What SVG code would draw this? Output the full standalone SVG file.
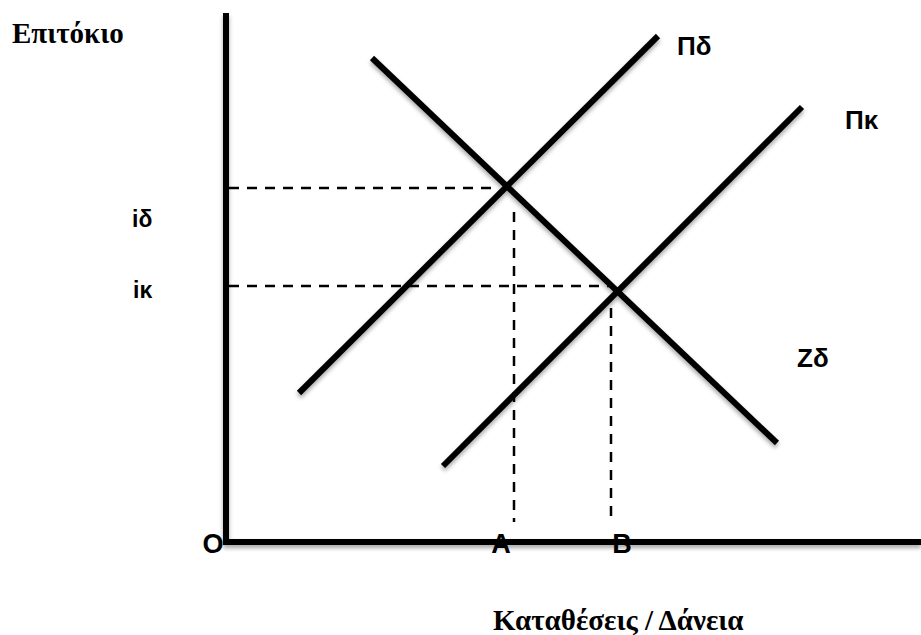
<svg xmlns="http://www.w3.org/2000/svg" width="921" height="635" viewBox="0 0 921 635">
<style>
.solid{stroke:#000;stroke-width:6;fill:none;stroke-linecap:butt}
.dash{stroke:#000;stroke-width:2.5;fill:none;stroke-dasharray:10 8}
.lbl{font-family:"Liberation Sans",Arial,sans-serif;font-weight:bold;fill:#000}
.ttl{font-family:"Liberation Serif","Times New Roman",serif;font-weight:bold;fill:#000}
</style>
<defs>
<filter id="sh" x="-10%" y="-10%" width="120%" height="130%">
<feDropShadow dx="0" dy="3" stdDeviation="2" flood-color="#000" flood-opacity="0.35"/>
</filter>
</defs>
<rect width="921" height="635" fill="#fff"/>
<g id="guides">
<line class="dash" x1="229" y1="188" x2="492" y2="188"/>
<line class="dash" x1="229" y1="286" x2="610" y2="286"/>
<line class="dash" x1="514" y1="212" x2="514" y2="522"/>
<line class="dash" x1="611" y1="308" x2="611" y2="522"/>
</g>
<g id="axes" filter="url(#sh)">
<line class="solid" x1="226" y1="13" x2="226" y2="545"/>
<line class="solid" x1="223" y1="542" x2="921" y2="542"/>
</g>
<g id="curves" filter="url(#sh)">
<line id="Pd" class="solid" x1="299" y1="393" x2="658" y2="36"/>
<line id="Pk" class="solid" x1="443" y1="466" x2="802" y2="107"/>
<line id="Zd" class="solid" x1="372" y1="58" x2="777" y2="443"/>
</g>
<g id="labels">
<text class="ttl" x="12" y="43" font-size="29">Επιτόκιο</text>
<text class="lbl" x="677" y="55" font-size="26">Πδ</text>
<text class="lbl" x="845" y="129" font-size="26">Πκ</text>
<text class="lbl" x="797" y="367" font-size="26">Zδ</text>
<text class="lbl" x="132" y="227" font-size="23">iδ</text>
<text class="lbl" x="133" y="298" font-size="23">iκ</text>
<text class="lbl" x="213" y="553" font-size="27" text-anchor="middle">O</text>
<text class="lbl" x="501" y="553" font-size="27" text-anchor="middle">A</text>
<text class="lbl" x="622" y="553" font-size="27" text-anchor="middle">B</text>
<text class="ttl" x="493" y="630" font-size="29">Καταθέσεις / Δάνεια</text>
</g>
</svg>
